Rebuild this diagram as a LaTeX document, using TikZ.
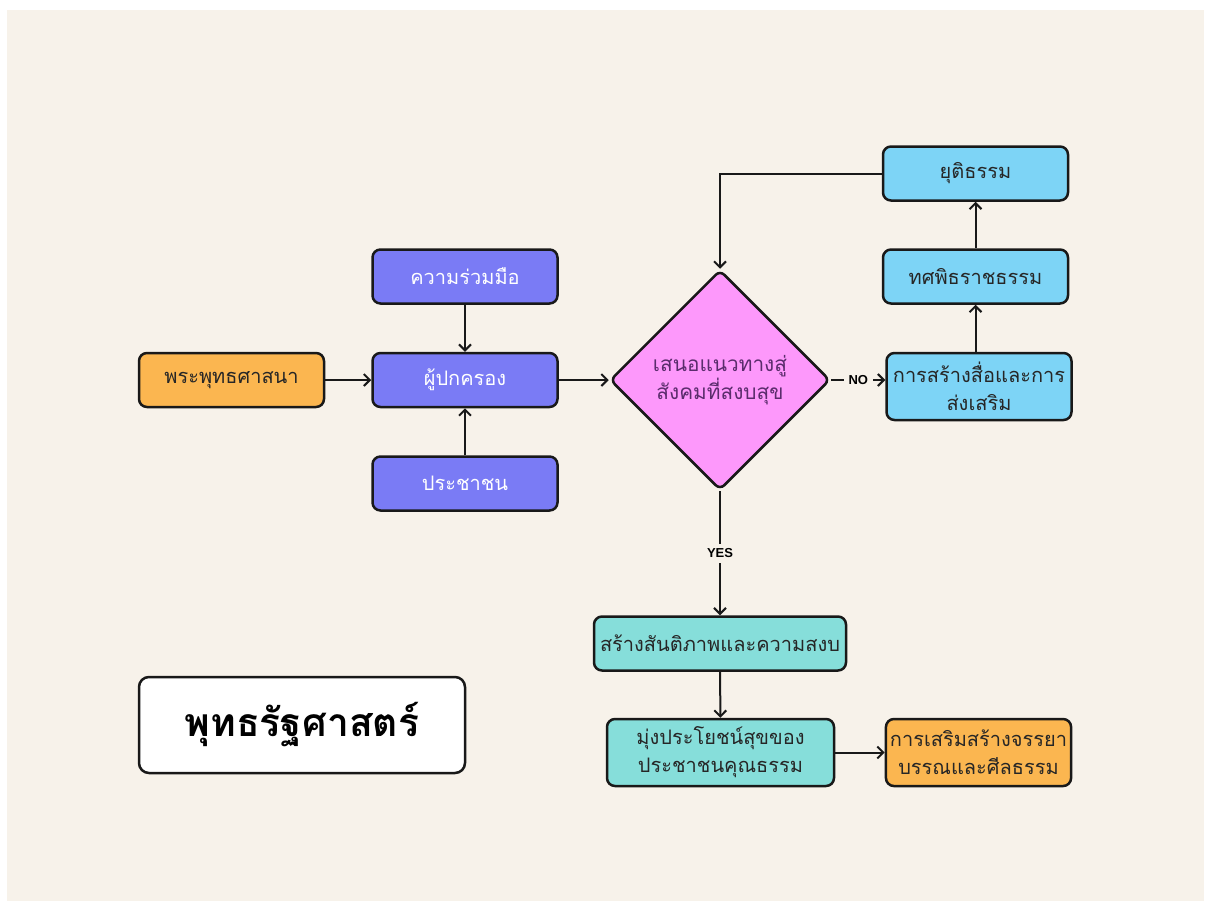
\documentclass[tikz,border=0pt]{standalone}
\usepackage{fontspec}
\newfontfamily\thaifont[Script=Thai]{Loma}
\newfontfamily\tagfont{Liberation Sans}
\usetikzlibrary{shapes.geometric}
\usetikzlibrary{arrows.meta}

\definecolor{paper}{HTML}{F7F2EA}
\definecolor{orangebox}{HTML}{FBB650}
\definecolor{violetbox}{HTML}{7A7BF5}
\definecolor{pinkbox}{HTML}{FD98FB}
\definecolor{skybox}{HTML}{7DD4F6}
\definecolor{tealbox}{HTML}{86DEDA}
\definecolor{plumtext}{HTML}{5A2C6C}

\tikzset{
  box/.style={draw=black!90, line width=1.25pt, rounded corners=4pt,
    minimum width=92.5pt, minimum height=27pt, align=center, inner sep=2pt,
    font=\thaifont\fontsize{10}{14}\selectfont, text=black!85},
  ruled/.style={box, fill=violetbox, text=white},
  decide/.style={diamond, aspect=1, draw=black!90, line width=1.25pt,
    rounded corners=3pt, fill=pinkbox, inner sep=0pt, minimum width=110pt,
    minimum height=110pt, align=center, text=plumtext,
    font=\thaifont\fontsize{10.4}{14}\selectfont},
  flow/.style={draw=black!90, line width=1pt, arrows=-{Straight Barb[length=3pt,width=6pt]}},
  tag/.style={fill=paper, inner sep=2.5pt, font=\tagfont\bfseries\fontsize{6.5}{7}\selectfont}
}

\begin{document}
\begin{tikzpicture}[x=0.5pt, y=-0.5pt]
  \fill[white] (0,0) rectangle (1209,901);
  \fill[paper] (7,10) rectangle (1204,901);

  % left side
  \node[box, fill=orangebox] (religion) at (231.5,380) {พระพุทธศาสนา};
  \node[ruled] (ruler) at (465,380) {ผู้ปกครอง};
  \node[ruled] (coop) at (465,276.5) {ความร่วมมือ};
  \node[ruled] (people) at (465,483.5) {ประชาชน};
  \node[decide] (goal) at (720,380) {เสนอแนวทางสู่\\สังคมที่สงบสุข};

  % right side
  \node[box, fill=skybox] (justice) at (975.5,173.5) {ยุติธรรม};
  \node[box, fill=skybox] (dharma) at (975.5,276.5) {ทศพิธราชธรรม};
  \node[box, fill=skybox, minimum height=33.5pt] (media) at (979,386.5) {การสร้างสื่อและการ\\ส่งเสริม};

  % bottom
  \node[box, fill=tealbox, minimum width=126pt] (peace) at (720,643.5) {สร้างสันติภาพและความสงบ};
  \node[box, fill=tealbox, minimum width=113.5pt, minimum height=33.5pt] (welfare) at (720.5,752.5) {มุ่งประโยชน์สุขของ\\ประชาชนคุณธรรม};
  \node[box, fill=orangebox, minimum height=33.5pt] (ethics) at (978.5,752.5) {การเสริมสร้างจรรยา\\บรรณและศีลธรรม};
  \node[box, fill=white, minimum width=163pt, minimum height=48pt, rounded corners=5pt,
    text=black, font=\thaifont\bfseries\fontsize{19.5}{24}\selectfont] (title) at (302,725) {พุทธรัฐศาสตร์};

  \draw[flow] (religion) -- (ruler);
  \draw[flow] (coop) -- (ruler);
  \draw[flow] (people) -- (ruler);
  \draw[flow] (ruler) -- (goal);
  \draw[flow] (justice) -| (goal);
  \draw[flow] (goal.east) -- node[tag] {NO} (goal.east -| media.west);
  \draw[flow] (dharma.south |- media.north) -- (dharma);
  \draw[flow] (dharma) -- (justice);
  \draw[flow] (goal) -- node[tag] {YES} (peace);
  \draw[flow] (peace) -- (welfare);
  \draw[flow] (welfare) -- (ethics);
\end{tikzpicture}
\end{document}
